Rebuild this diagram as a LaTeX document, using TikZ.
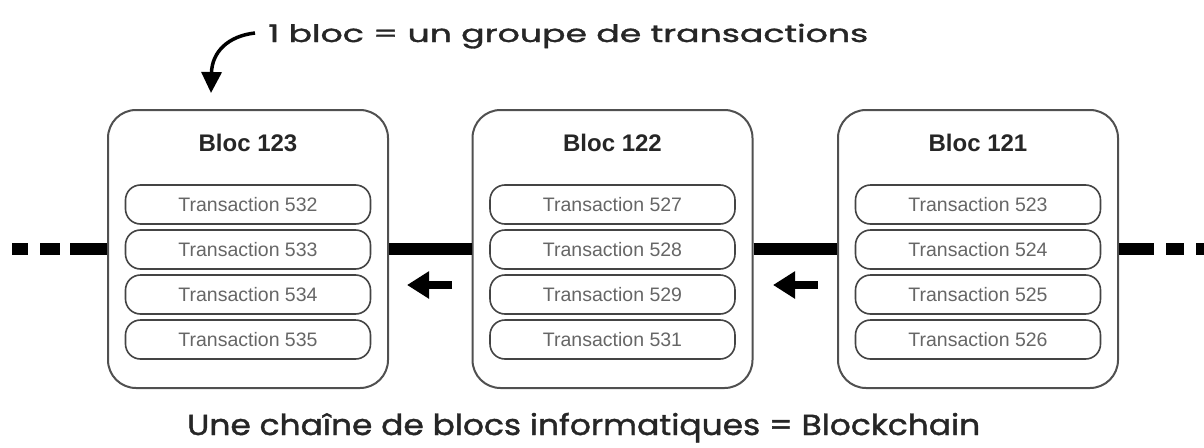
\documentclass[tikz,border=0pt]{standalone}
\usepackage{fontspec}
\usepackage{graphicx}
\setmainfont{Liberation Sans}
\newfontfamily\handfont[FakeBold=1.3]{Poppins}
\usetikzlibrary{arrows.meta,calc}
\definecolor{edge}{HTML}{505050}
\definecolor{txedge}{HTML}{444444}
\definecolor{txgray}{HTML}{666666}
\begin{document}
\begin{tikzpicture}[x=1pt,y=-1pt,
  blockbox/.style={draw=edge, line width=2pt, rounded corners=28pt, minimum width=280pt, minimum height=278pt, fill=white, inner sep=0pt},
  txbox/.style={draw=txedge, line width=1.6pt, rounded corners=15pt, minimum width=245pt, minimum height=39pt, fill=white, inner sep=0pt, font=\fontsize{19.5}{20}\selectfont, text=txgray},
  titletext/.style={font=\bfseries\fontsize{24}{26}\selectfont, text=black!85, inner sep=0pt},
  chain/.style={line width=12pt, black},
  back/.style={line width=8pt, -{Triangle[length=22pt,width=26pt]}},
  hand/.style={anchor=base west, inner sep=0pt, text=black!85}
]
\useasboundingbox (0,0) rectangle (1204,447);

% blocks
\node[blockbox] (b1) at (248,249) {};
\node[blockbox] (b2) at (612.5,249) {};
\node[blockbox] (b3) at (978,249) {};

\node[titletext] (h1) at (248,143) {Bloc 123};
\node[titletext] (h2) at (612.5,143) {Bloc 122};
\node[titletext] (h3) at (978,143) {Bloc 121};

\node[txbox] (t11) at (248,204.5) {Transaction 532};
\node[txbox] (t12) at (248,249.5) {Transaction 533};
\node[txbox] (t13) at (248,294.5) {Transaction 534};
\node[txbox] (t14) at (248,339.5) {Transaction 535};

\node[txbox] (t21) at (612.5,204.5) {Transaction 527};
\node[txbox] (t22) at (612.5,249.5) {Transaction 528};
\node[txbox] (t23) at (612.5,294.5) {Transaction 529};
\node[txbox] (t24) at (612.5,339.5) {Transaction 531};

\node[txbox] (t31) at (978,204.5) {Transaction 523};
\node[txbox] (t32) at (978,249.5) {Transaction 524};
\node[txbox] (t33) at (978,294.5) {Transaction 525};
\node[txbox] (t34) at (978,339.5) {Transaction 526};

% chain
\coordinate (L) at (12,249);
\coordinate (R) at (1204,249);
\draw[chain, dash pattern=on 16pt off 12pt on 20pt off 10pt on 60pt off 0pt] (L) -- (b1.west);
\draw[chain] (b1.east) -- (b2.west);
\draw[chain] (b2.east) -- (b3.west);
\draw[chain, dash pattern=on 35pt off 12pt on 18pt off 12pt on 40pt off 0pt] (b3.east) -- (R);

% direction arrows
\coordinate (a1s) at (452,285);
\coordinate (a1e) at (407,285);
\coordinate (a2s) at (818,285);
\coordinate (a2e) at (773,285);
\draw[back] (a1s) -- (a1e);
\draw[back] (a2s) -- (a2e);

% annotations
\node[hand] (top) at (268,42) {\handfont\fontsize{24}{26}\selectfont\resizebox{600pt}{\height}{1 bloc = un groupe de transactions}};
\node[hand] (bottom) at (187,435) {\handfont\fontsize{29}{31}\selectfont\resizebox{793pt}{\height}{Une chaîne de blocs informatiques = Blockchain}};

\coordinate (c0) at ($(top.base west)+(-13,-9)$);
\coordinate (c1) at (211,93);
\draw[line width=3.5pt, -{Triangle[length=21pt,width=20pt]}] (c0) .. controls (228,36) and (212,52) .. (c1);
\end{tikzpicture}
\end{document}
